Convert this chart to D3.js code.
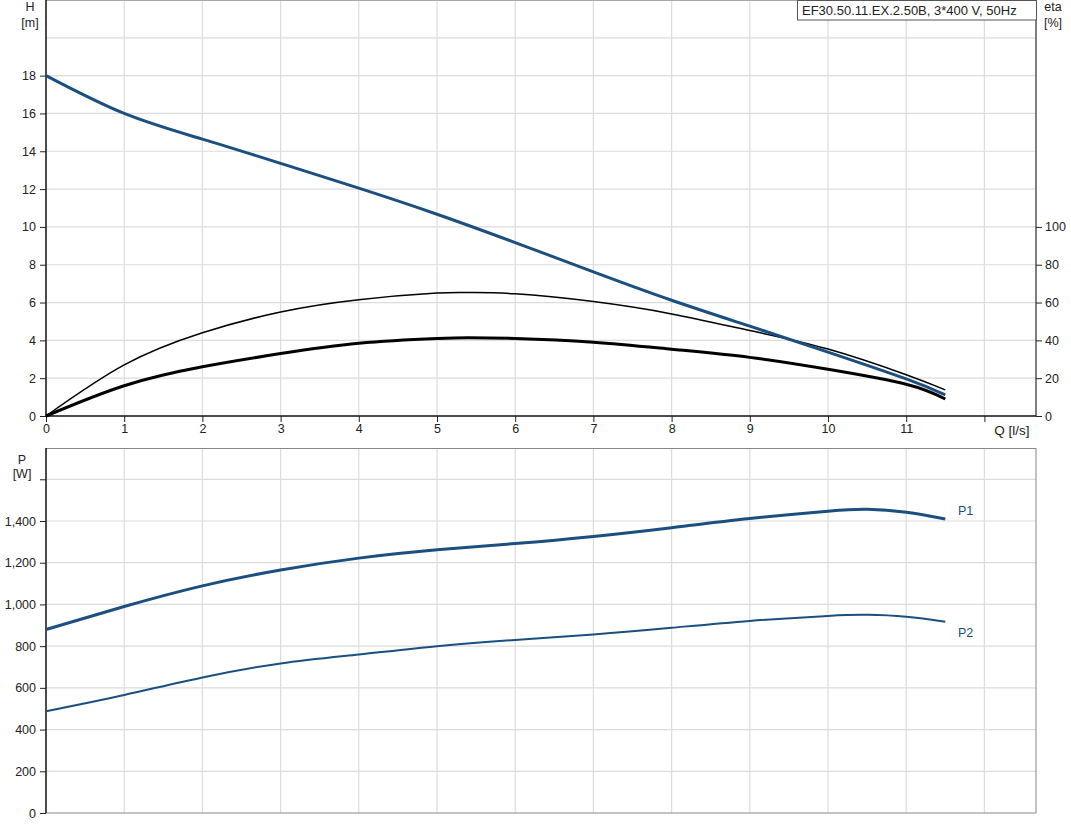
<!DOCTYPE html>
<html><head><meta charset="utf-8">
<script src="https://cdn.jsdelivr.net/npm/d3@7"></script>
<style>body{margin:0;background:#fff}svg{display:block;font-family:"Liberation Sans",Arial,sans-serif}</style>
</head><body><svg id="c" width="1071" height="833"></svg>
<script>
const qTicks = [0,1,2,3,4,5,6,7,8,9,10,11,12];
const hTicks = [0,2,4,6,8,10,12,14,16,18];
const hGrid = [2,4,6,8,10,12,14,16,18,20];
const etaTicks = [0,20,40,60,80,100];
const pTicks = [0,200,400,600,800,1000,1200,1400,1600];
const q = [0,1,2,3,4,5,6,7,8,9,10,11,11.5];
const hVals = [18,16.0,14.64,13.36,12.05,10.67,9.17,7.62,6.12,4.75,3.38,1.96,1.12];
const q2 = [0,1,2,3,4,5,5.4,6,7,8,9,10,11,11.5];
const etaThin = [0,27,44,55,61.5,65,65.3,64.6,60.5,54,45.2,35.4,21.8,13.8];
const etaThick = [0,16,26,33,38.5,41,41.4,41,39,35.3,31,24.7,16.8,9];
const qp = [0,1,2,3,4,5,6,7,8,9,10,10.5,11,11.5];
const p1 = [880,990,1089,1165,1222,1262,1292,1326,1368,1412,1447,1456,1442,1410];
const p2 = [488,566,650,717,760,800,830,856,888,921,945,950,941,917];
const title = "EF30.50.11.EX.2.50B, 3*400 V, 50Hz";

const svg = d3.select("#c");
const L = 46, R = 1036;
const x = d3.scaleLinear().domain([0, 990/78.2]).range([L, R]);
const yH = d3.scaleLinear().domain([0, 22]).range([416, 0]);
const yE = d3.scaleLinear().domain([0, 220]).range([416, 0]);
const yP = d3.scaleLinear().domain([0, 1750]).range([813, 448]);
const grid = "#dcdcdc", txt = "#222";

svg.append("g").selectAll("line").data(qTicks.slice(1)).join("line")
  .attr("x1", d=>x(d)).attr("x2", d=>x(d)).attr("y1", 0).attr("y2", 416)
  .attr("stroke", grid).attr("stroke-width", 1.2);
svg.append("g").selectAll("line").data(hGrid).join("line")
  .attr("x1", L).attr("x2", R).attr("y1", d=>yH(d)).attr("y2", d=>yH(d))
  .attr("stroke", grid).attr("stroke-width", 1.2);
svg.append("g").selectAll("line").data(qTicks.slice(1)).join("line")
  .attr("x1", d=>x(d)).attr("x2", d=>x(d)).attr("y1", 448).attr("y2", 813)
  .attr("stroke", grid).attr("stroke-width", 1.2);
svg.append("g").selectAll("line").data(pTicks.slice(1)).join("line")
  .attr("x1", L).attr("x2", R).attr("y1", d=>yP(d)).attr("y2", d=>yP(d))
  .attr("stroke", grid).attr("stroke-width", 1.2);

svg.append("line").attr("x1", L).attr("x2", R).attr("y1", 0.5).attr("y2", 0.5).attr("stroke", "#aaa");
svg.append("line").attr("x1", L).attr("x2", R).attr("y1", 448.5).attr("y2", 448.5).attr("stroke", "#888");
svg.append("line").attr("x1", R).attr("x2", R).attr("y1", 448).attr("y2", 813).attr("stroke", "#888");
svg.append("line").attr("x1", L).attr("x2", R).attr("y1", 813).attr("y2", 813).attr("stroke", "#888");

const axH = svg.append("g").attr("transform", `translate(${L},0)`)
  .call(d3.axisLeft(yH).tickValues(hTicks).tickSize(6).tickPadding(4));
const axE = svg.append("g").attr("transform", `translate(${R},0)`)
  .call(d3.axisRight(yE).tickValues(etaTicks).tickSize(6).tickPadding(3));
const axQ = svg.append("g").attr("transform", `translate(0,416)`)
  .call(d3.axisBottom(x).tickValues(qTicks).tickSize(6).tickPadding(2)
    .tickFormat(d=> d===12 ? "" : d));
const axP = svg.append("g").attr("transform", `translate(${L},0)`)
  .call(d3.axisLeft(yP).tickValues(pTicks).tickSize(6).tickPadding(4)
    .tickFormat(d=> d===1600 ? "" : d3.format(",")(d)));
[axH, axE, axQ, axP].forEach(a=>{
  a.selectAll("text").attr("font-size", 12.5).attr("fill", txt).attr("font-family", '"Liberation Sans",Arial,sans-serif');
  a.selectAll("line").attr("stroke", "#222");
  a.select(".domain").attr("stroke", "#111").attr("stroke-width", 1.5);
});
axE.select(".domain").attr("stroke", "#555").attr("d", "M0,0V416");
axH.select(".domain").attr("d", "M0,0V416");
axP.select(".domain").attr("d", "M0,448V813");
axQ.select(".domain").attr("d", `M${L},0H${R}`);

const lab = (t, xx, yy, fs=12.5) => svg.append("text").text(t).attr("x", xx).attr("y", yy)
  .attr("font-size", fs).attr("fill", txt).attr("text-anchor", "middle");
lab("H", 30, 11); lab("[m]", 30, 27);
lab("eta", 1053, 11); lab("[%]", 1053, 27);
lab("P", 22, 464); lab("[W]", 22, 478);
lab("Q [l/s]", 1012, 435, 13.5);

svg.append("rect").attr("x", 797.5).attr("y", 0.5).attr("width", 239).attr("height", 19.5)
  .attr("fill", "#fff").attr("stroke", "#555");
svg.append("text").text(title).attr("x", 802).attr("y", 15).attr("font-size", 13).attr("fill", txt);

const line = (xs, ys, yScale) => d3.line().x((d,i)=>x(xs[i])).y(d=>yScale(d)).curve(d3.curveNatural)(ys);
svg.append("path").attr("d", line(q2, etaThin, yE)).attr("fill", "none").attr("stroke", "#000").attr("stroke-width", 1.5);
svg.append("path").attr("d", line(q2, etaThick, yE)).attr("fill", "none").attr("stroke", "#000").attr("stroke-width", 3);
svg.append("path").attr("d", line(q, hVals, yH)).attr("fill", "none").attr("stroke", "#1a4f80").attr("stroke-width", 3);
svg.append("path").attr("d", line(qp, p1, yP)).attr("fill", "none").attr("stroke", "#1a4f80").attr("stroke-width", 3);
svg.append("path").attr("d", line(qp, p2, yP)).attr("fill", "none").attr("stroke", "#1a4f80").attr("stroke-width", 2);
svg.append("text").text("P1").attr("x", 958).attr("y", 515).attr("font-size", 12.5).attr("fill", "#1a4f80");
svg.append("text").text("P2").attr("x", 958).attr("y", 637).attr("font-size", 12.5).attr("fill", "#1a4f80");
</script></body></html>
